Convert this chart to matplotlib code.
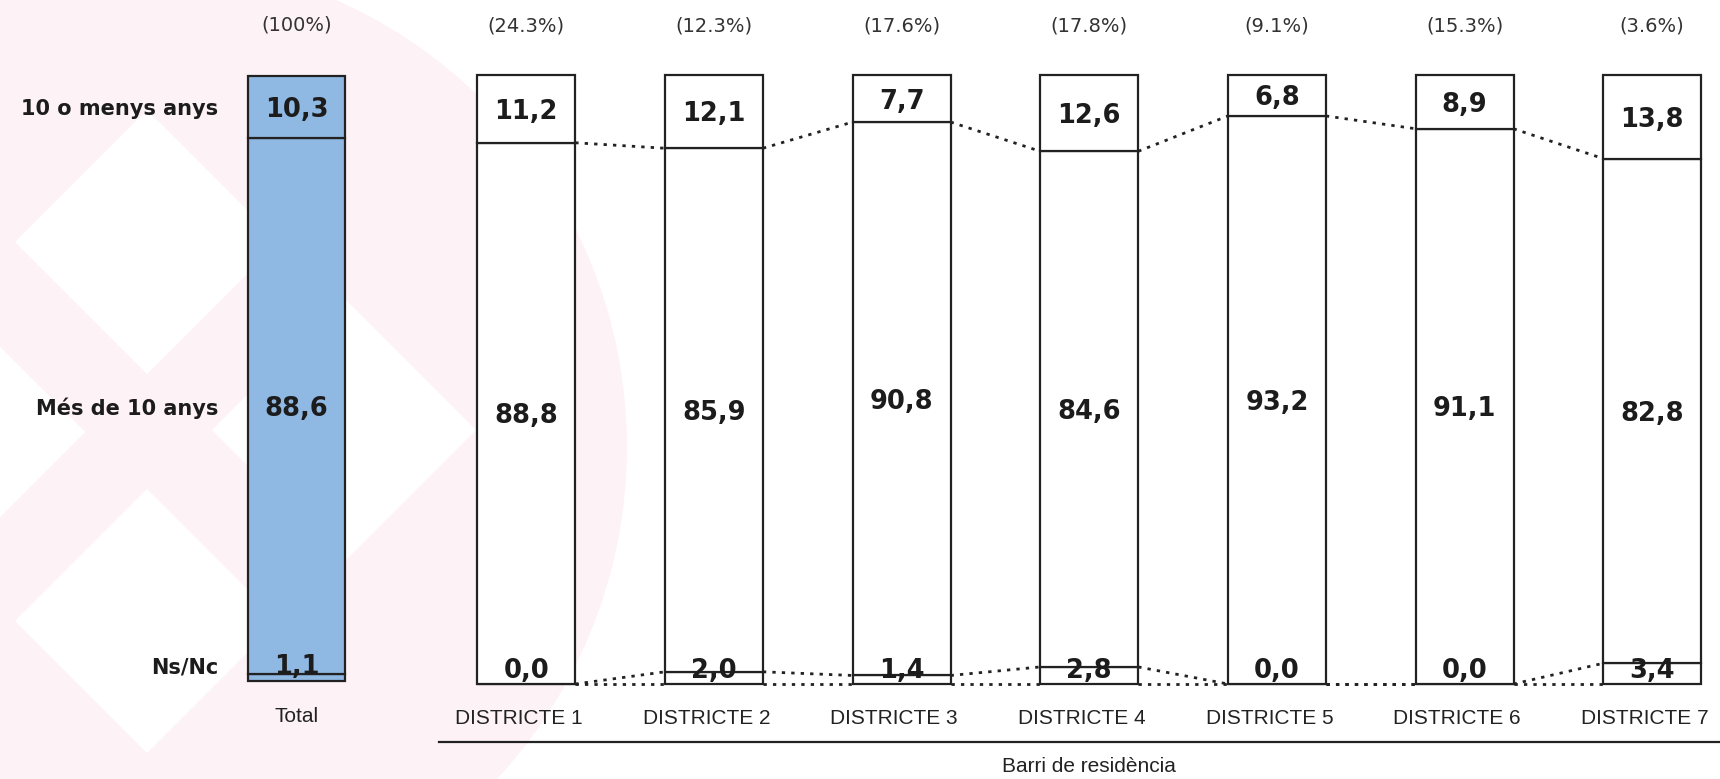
import matplotlib
matplotlib.use("Agg")
import matplotlib.pyplot as plt
from matplotlib.patches import Circle, Polygon
from matplotlib.lines import Line2D

# ---------------- data ----------------
row_labels = ["10 o menys anys", "Més de 10 anys", "Ns/Nc"]
total_label = "Total"
total_share = 100
total_menys = 10.3
total_mes = 88.6
total_nsnc = 1.1

districts = ["DISTRICTE 1", "DISTRICTE 2", "DISTRICTE 3", "DISTRICTE 4",
             "DISTRICTE 5", "DISTRICTE 6", "DISTRICTE 7"]
district_share = [24.3, 12.3, 17.6, 17.8, 9.1, 15.3, 3.6]
menys = [11.2, 12.1, 7.7, 12.6, 6.8, 8.9, 13.8]
mes = [88.8, 85.9, 90.8, 84.6, 93.2, 91.1, 82.8]
nsnc = [0.0, 2.0, 1.4, 2.8, 0.0, 0.0, 3.4]
axis_title = "Barri de residència"

# ---------------- style ----------------
W, H = 1720, 779
EDGE = "#222222"
TXT = "#1c1c1c"
BLUE = "#8fb8e3"
PINK = "#fdf2f6"
VAL_FONT = dict(family="DejaVu Sans", fontsize=18.5, fontweight="bold", color=TXT)
ROW_FONT = dict(family="DejaVu Sans", fontsize=15, fontweight="bold", color=TXT)
PCT_FONT = dict(family="DejaVu Sans", fontsize=14, color="#333333")
CAT_FONT = dict(family="Liberation Sans", fontsize=15, color="#222222")
BAR_W = 0.522
EDGE_LW = 1.6


def fmt(v):
    return f"{v:.1f}".replace(".", ",")


def pct(v):
    return f"({v:g}%)"


fig = plt.figure(figsize=(W / 100, H / 100), dpi=100)

# ---- faint watermark background (pixel coordinates) ----
bg = fig.add_axes([0, 0, 1, 1], zorder=-5)
bg.set_xlim(0, W)
bg.set_ylim(H, 0)
bg.axis("off")
bg.add_patch(Circle((138, 447), 489, facecolor=PINK, edgecolor="none"))
for cx, cy in [(147, 242), (147, 621), (344, 430), (-47, 432)]:
    r = 132
    bg.add_patch(Polygon([(cx, cy - r), (cx + r, cy), (cx, cy + r), (cx - r, cy)],
                         closed=True, facecolor="white", edgecolor="none"))
# axis-title underline
bg.add_line(Line2D([439, W], [742, 742], color=EDGE, lw=1.6))
bg.text(1002, 767, axis_title, ha="left", va="center", **CAT_FONT)

# ---------------- Total chart ----------------
ax0 = fig.add_axes([203.6 / W, 1 - 681 / H, 185.8 / W, 605 / H])
ax0.set_xlim(-0.5, 0.5)
ax0.set_ylim(0, 100)
ax0.axis("off")
ax0.patch.set_alpha(0)
segs = [total_nsnc, total_mes, total_menys]
bottom = 0
for s in segs:
    ax0.bar(0, s, bottom=bottom, width=BAR_W, color=BLUE, edgecolor=EDGE,
            linewidth=EDGE_LW, clip_on=False)
    bottom += s
y_top = total_nsnc + total_mes + total_menys / 2
y_mid = total_nsnc + total_mes / 2
y_bot = 2.8
ax0.text(0, y_top, fmt(total_menys), ha="center", va="center_baseline", **VAL_FONT)
ax0.text(0, y_mid, fmt(total_mes), ha="center", va="center_baseline", **VAL_FONT)
ax0.text(0, y_bot, fmt(total_nsnc), ha="center", va="center_baseline", **VAL_FONT)
for lab, yy in zip(row_labels, [y_top, y_mid, y_bot - 0.3]):
    ax0.text(-0.42, yy, lab, ha="right", va="center_baseline", **ROW_FONT)
ax0.text(0, 108.4, pct(total_share), ha="center", va="center", **PCT_FONT)
ax0.text(0, -5.95, total_label, ha="center", va="center", **CAT_FONT)

# ---------------- District chart ----------------
ax1 = fig.add_axes([413.7 / W, 1 - 684 / H, (1719.75 - 413.7) / W, 609.5 / H])
ax1.set_xlim(-0.6, 6.36)
ax1.set_ylim(0, 100)
ax1.axis("off")
ax1.patch.set_alpha(0)
x = list(range(len(districts)))
ax1.bar(x, nsnc, width=BAR_W, color="white", edgecolor=EDGE, linewidth=EDGE_LW, clip_on=False)
b2 = [a for a in nsnc]
ax1.bar(x, mes, bottom=b2, width=BAR_W, color="white", edgecolor=EDGE, linewidth=EDGE_LW, clip_on=False)
b3 = [a + b for a, b in zip(nsnc, mes)]
ax1.bar(x, menys, bottom=b3, width=BAR_W, color="white", edgecolor=EDGE, linewidth=EDGE_LW, clip_on=False)

# series (connector) lines
levels = [[0.0] * len(x), nsnc, b3]
for lev in levels:
    for i in range(len(x) - 1):
        ax1.plot([x[i] + BAR_W / 2, x[i + 1] - BAR_W / 2], [lev[i], lev[i + 1]],
                 color=EDGE, lw=2.0, linestyle=(0, (1.2, 2.2)), zorder=1, clip_on=False)

for i in x:
    ax1.text(i, b3[i] + menys[i] / 2, fmt(menys[i]), ha="center", va="center_baseline", **VAL_FONT)
    ax1.text(i, nsnc[i] + mes[i] / 2, fmt(mes[i]), ha="center", va="center_baseline", **VAL_FONT)
    ax1.text(i, 2.6, fmt(nsnc[i]), ha="center", va="center_baseline", **VAL_FONT)
    ax1.text(i, 108.0, pct(district_share[i]), ha="center", va="center", **PCT_FONT)
    ax1.text(i - 0.04, -5.74, districts[i], ha="center", va="center", **CAT_FONT)

fig.savefig("out.png", dpi=100)
